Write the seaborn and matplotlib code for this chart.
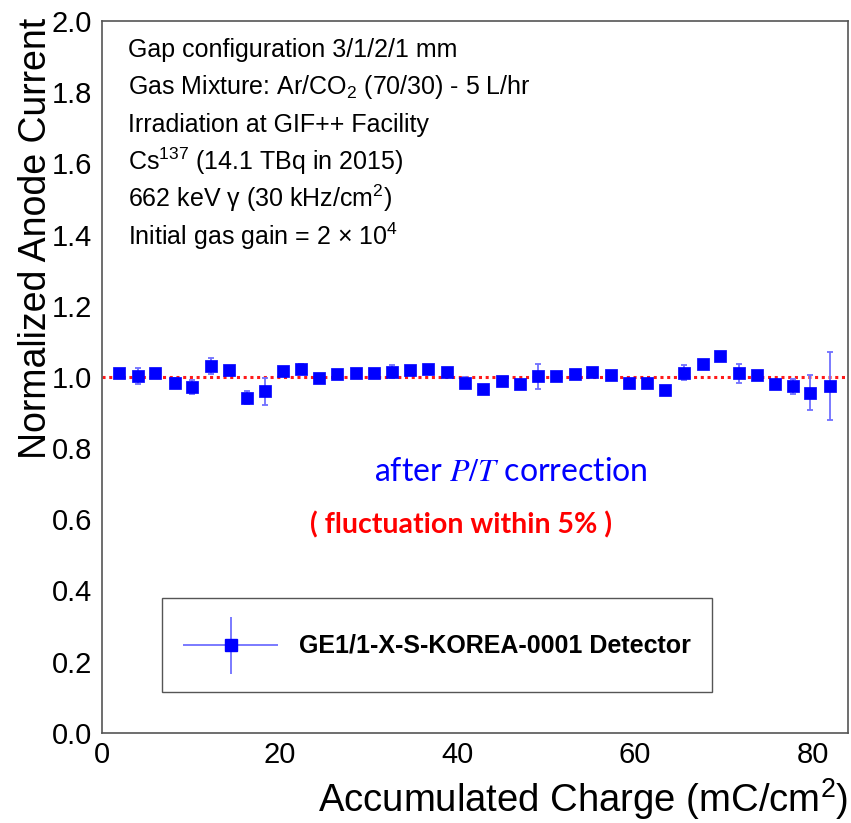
import matplotlib
matplotlib.use("Agg")
import matplotlib.pyplot as plt
from matplotlib.legend_handler import HandlerErrorbar
from matplotlib.ticker import MultipleLocator, FormatStrFormatter
import seaborn as sns
import pandas as pd
import numpy as np

# Datos
charge = [2.0, 4.1, 6.0, 8.2, 10.2, 12.3, 14.3, 16.3, 18.4, 20.4,
          22.4, 24.5, 26.5, 28.6, 30.6, 32.7, 34.7, 36.7, 38.8, 40.9,
          42.9, 45.0, 47.1, 49.1, 51.1, 53.2, 55.2, 57.3, 59.3, 61.3,
          63.4, 65.5, 67.6, 69.6, 71.7, 73.7, 75.7, 77.8, 79.7, 81.9]
current = [1.010, 1.002, 1.010, 0.984, 0.972, 1.030, 1.020, 0.941, 0.959, 1.017,
           1.022, 0.998, 1.007, 1.012, 1.012, 1.014, 1.018, 1.022, 1.015, 0.984,
           0.966, 0.987, 0.979, 1.002, 1.002, 1.007, 1.015, 1.005, 0.984, 0.984,
           0.963, 1.011, 1.035, 1.058, 1.010, 1.005, 0.980, 0.973, 0.956, 0.974]
current_err = [0.004, 0.022, 0.004, 0.012, 0.020, 0.023, 0.004, 0.018, 0.038, 0.004,
               0.015, 0.004, 0.004, 0.004, 0.004, 0.018, 0.004, 0.004, 0.004, 0.015,
               0.004, 0.004, 0.004, 0.035, 0.004, 0.004, 0.004, 0.004, 0.004, 0.004,
               0.004, 0.021, 0.004, 0.004, 0.027, 0.004, 0.008, 0.021, 0.049, 0.095]

info_lines = [
    "Gap configuration 3/1/2/1 mm",
    "Gas Mixture: Ar/CO$_2$ (70/30) - 5 L/hr",
    "Irradiation at GIF++ Facility",
    "Cs$^{137}$ (14.1 TBq in 2015)",
    "662 keV \u03b3 (30 kHz/cm$^2$)",
    "Initial gas gain = 2 \u00d7 10$^4$",
]
detector_label = "GE1/1-X-S-KOREA-0001 Detector"

df = pd.DataFrame({"charge": charge, "current": current, "err": current_err})

sns.set_theme(style="white")
plt.rcParams["font.family"] = ["Liberation Sans", "DejaVu Sans"]
plt.rcParams["mathtext.fontset"] = "custom"
plt.rcParams["mathtext.rm"] = "Liberation Sans"
plt.rcParams["mathtext.it"] = "Liberation Sans:italic"
plt.rcParams["mathtext.bf"] = "Liberation Sans:bold"
plt.rcParams["text.color"] = "black"
plt.rcParams["axes.labelcolor"] = "black"
plt.rcParams["xtick.labelcolor"] = "black"
plt.rcParams["ytick.labelcolor"] = "black"


# handler de leyenda con el simbolo un poco mas abajo (como en ROOT)
class ShiftedErrorbar(HandlerErrorbar):
    def create_artists(self, legend, orig_handle, xdescent, ydescent,
                       width, height, fontsize, trans):
        return super().create_artists(legend, orig_handle, xdescent,
                                      ydescent + 13, width, height,
                                      fontsize, trans)


fig = plt.figure(figsize=(8.51, 8.23), dpi=100)
ax = fig.add_axes([0.1195, 0.1097, 0.8773, 0.8648])

marker_blue = "#0000ff"
err_blue = "#6f6fff"

# linea de referencia en 1.0
ax.axhline(1.0, color="#ff1a1a", lw=2.2, ls=(0, (1, 1.2)), zorder=1)

ax.errorbar(df["charge"], df["current"], yerr=df["err"], fmt="none",
            ecolor=err_blue, elinewidth=1.3, capsize=2.5, capthick=1.3, zorder=2)
sns.scatterplot(data=df, x="charge", y="current", marker="s", s=65,
                color=marker_blue, edgecolor=marker_blue, linewidth=0.5,
                ax=ax, zorder=3, legend=False)

ax.set_xlim(0, 84)
ax.set_ylim(0, 2.0)
ax.xaxis.set_major_locator(MultipleLocator(20))
ax.xaxis.set_minor_locator(MultipleLocator(5))
ax.yaxis.set_major_locator(MultipleLocator(0.2))
ax.yaxis.set_minor_locator(MultipleLocator(0.05))
ax.yaxis.set_major_formatter(FormatStrFormatter("%.1f"))

ax.tick_params(which="both", direction="in", color="#333333", width=0.9,
               top=False, right=False, labelsize=21)
ax.tick_params(which="major", length=15.5)
ax.tick_params(which="minor", length=8)
ax.tick_params(axis="y", pad=7)
ax.tick_params(axis="x", pad=6)

for sp in ax.spines.values():
    sp.set_color("#555555")
    sp.set_linewidth(1.2)

ax.set_xlabel("Accumulated Charge (mC/cm$^2$)", fontsize=27.5)
ax.xaxis.set_label_coords(1.0, -0.1114)
ax.xaxis.label.set_ha("right")
ax.xaxis.label.set_va("baseline")
ax.set_ylabel("Normalized Anode Current", fontsize=27)
ax.yaxis.set_label_coords(-0.088, 1.004)
ax.yaxis.label.set_ha("right")
ax.yaxis.label.set_va("center")

# texto informativo
for i, line in enumerate(info_lines):
    ax.text(0.0356, 0.9498 - i * 0.0529, line, transform=ax.transAxes,
            fontsize=18, ha="left", va="baseline", color="black")

ax.text(0.548, 0.3534, "after $P/T$ correction", transform=ax.transAxes,
        fontsize=23, ha="center", va="baseline", color="#0000ff",
        family=["Lato", "DejaVu Sans"], math_fontfamily="stix")
ax.text(0.481, 0.2799, "( fluctuation within 5% )", transform=ax.transAxes,
        fontsize=20.5, ha="center", va="baseline", color="#ff0000",
        fontweight="bold", family=["Lato", "DejaVu Sans"])

# leyenda
handle = ax.errorbar([np.nan], [np.nan], xerr=[1], yerr=[1], fmt="s",
                     color=marker_blue, ecolor=err_blue, markersize=8,
                     elinewidth=1.3)
fs = 18
fs_px = fs / 72 * 100
leg = ax.legend([handle], [detector_label], loc="lower left",
                bbox_to_anchor=(0.0808, 0.0572), borderaxespad=0,
                prop={"size": fs, "weight": "bold"},
                handler_map={type(handle): ShiftedErrorbar(xerr_size=47.5 / fs_px,
                                                           yerr_size=28.5 / fs_px)},
                handlelength=95 / fs_px, handleheight=2.8, handletextpad=0.85,
                borderpad=0.84, fancybox=False, framealpha=1, numpoints=1)
leg.get_frame().set_edgecolor("#555555")
leg.get_frame().set_linewidth(1.0)

plt.savefig("out.png", dpi=100)
plt.close()
